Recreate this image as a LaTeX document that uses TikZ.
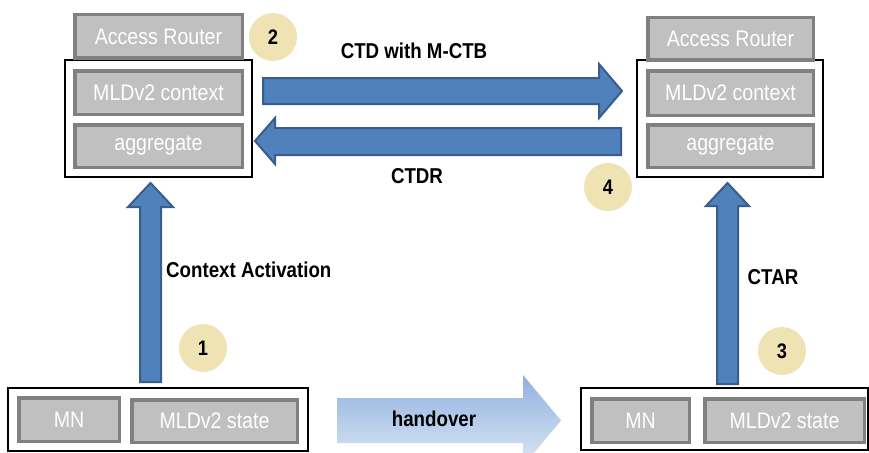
\documentclass[tikz,border=0pt]{standalone}
\usepackage{fontspec}
\setmainfont{Liberation Sans}[FakeStretch=0.87]

\definecolor{boxedge}{HTML}{808080}
\definecolor{boxfill}{HTML}{C0C0C0}
\definecolor{arrowfill}{HTML}{4F81BD}
\definecolor{arrowedge}{HTML}{385D8A}
\definecolor{badgefill}{HTML}{EFE3B3}
\definecolor{hoTop}{HTML}{8FB1DF}
\definecolor{hoBottom}{HTML}{DCE7F5}

\tikzset{
  greybox/.style={draw=boxedge, line width=3.5pt, fill=boxfill, text=white,
    font=\fontsize{22.5}{26}\selectfont, inner sep=0pt},
  holder/.style={draw=black, line width=1.2pt},
  badge/.style={circle, fill=badgefill, minimum size=48pt, inner sep=0pt,
    font=\bfseries\fontsize{21}{24}\selectfont},
  blockarrow/.style={fill=arrowfill, draw=arrowedge, line width=2pt, line join=miter},
  lbl/.style={font=\bfseries\fontsize{21.5}{24}\selectfont, inner sep=0pt}
}

% grey labelled box given by its outer corners (x1,y1) (x2,y2)
\newcommand\greyrect[6]{%
  \node[greybox, minimum width={(#4-#2-3.5)*1pt}, minimum height={(#5-#3-3.5)*1pt}]
    (#1) at ({(#2+#4)/2},{(#3+#5)/2}) {#6};}

\begin{document}
\begin{tikzpicture}[x=1pt, y=-1pt]
\useasboundingbox (0,0) rectangle (869,452);

% ---- holders ----
\draw[holder] (65,60) rectangle (252,177);
\draw[holder] (637,60) rectangle (823,177);
\draw[holder] (8,388) rectangle (308,451);
\draw[holder] (581,388) rectangle (868,450);

% ---- access routers (left / right) ----
\greyrect{arL}{73}{13}{244}{60}{Access Router}
\greyrect{ctxL}{73}{69}{244}{116}{MLDv2 context}
\greyrect{aggL}{73}{123}{244}{169}{aggregate}

\greyrect{arR}{646}{16}{815}{62}{Access Router}
\greyrect{ctxR}{646}{69}{815}{117}{MLDv2 context}
\greyrect{aggR}{646}{123}{815}{169}{aggregate}

% ---- mobile nodes ----
\greyrect{mnL}{17}{396}{121}{443}{MN}
\greyrect{stL}{130}{398}{299}{444}{MLDv2 state}
\greyrect{mnR}{590}{397}{691}{444}{MN}
\greyrect{stR}{703}{397}{866}{444}{MLDv2 state}

% ---- block arrows ----
% CTD with M-CTB (left to right)
\draw[blockarrow] (263,78) -- (599,78) -- (599,64) -- (622,91) -- (599,118)
  -- (599,104) -- (263,104) -- cycle;
% CTDR (right to left)
\draw[blockarrow] (621,128) -- (275,128) -- (275,118) -- (255,141) -- (275,164)
  -- (275,155) -- (621,155) -- cycle;
% Context Activation (up, left)
\draw[blockarrow] (140,382) -- (140,207) -- (128,207) -- (150.5,183) -- (173,207)
  -- (161,207) -- (161,382) -- cycle;
% CTAR (up, right)
\draw[blockarrow] (717,384) -- (717,206) -- (706,206) -- (727.5,183) -- (749,206)
  -- (738,206) -- (738,384) -- cycle;
% handover
\shade[top color=hoTop, bottom color=hoBottom]
  (337,398) -- (523,398) -- (523,375) -- (561,420.5) -- (523,466) -- (523,443)
  -- (337,443) -- cycle;

% ---- labels ----
\node[lbl] (lCTD) at (414,51) {CTD with M-CTB};
\node[lbl] (lCTDR) at (417,176) {CTDR};
\node[lbl, anchor=west] (lCA) at (166,270) {Context Activation};
\node[lbl] (lCTAR) at (773,277) {CTAR};
\node[lbl] (lHO) at (434,419) {handover};

% ---- step badges ----
\node[badge] (b1) at (203,348) {1};
\node[badge] (b2) at (273,37) {2};
\node[badge] (b3) at (782,351) {3};
\node[badge] (b4) at (608,187) {4};
\end{tikzpicture}
\end{document}
